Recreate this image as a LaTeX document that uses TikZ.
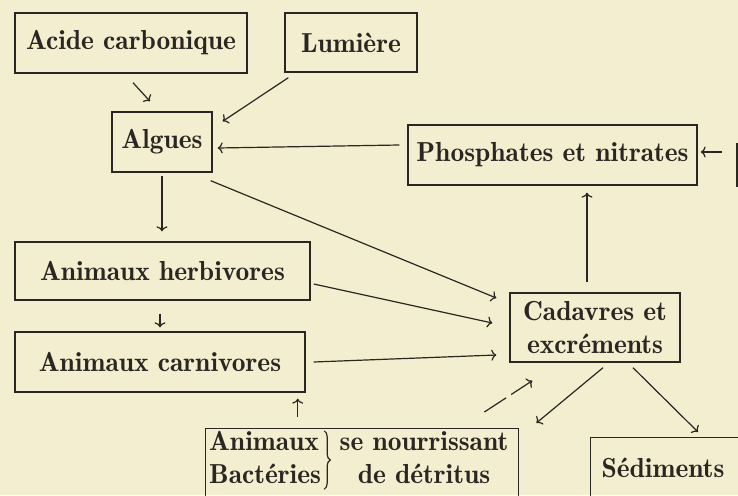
\documentclass[tikz,border=0pt]{standalone}
\usepackage{fontspec}
\setmainfont{lmroman10-regular.otf}[BoldFont=lmromandemi10-regular.otf]
\usetikzlibrary{arrows.meta,decorations.pathreplacing}
\definecolor{paper}{RGB}{243,238,207}
\definecolor{ink}{RGB}{42,38,33}
\begin{document}
\begin{tikzpicture}[x=1pt,y=-1pt,
  txt/.style={inner sep=0pt, text=ink, font=\bfseries\fontsize{27.5}{33}\selectfont, align=center},
  box/.style={txt, draw=ink, line width=1.4pt},
  frame/.style={draw=ink, line width=1.4pt, inner sep=0pt},
  arr/.style={draw=ink, line width=1.2pt, -{To[length=5pt,width=11pt]}}]
\clip (0,0) rectangle (738,495);
\fill[paper] (0,0) rectangle (738,495);
% boxes
\node[box, minimum width=232pt, minimum height=60pt] (acide) at (131,43) {Acide carbonique};
\node[box, minimum width=132pt, minimum height=59pt] (lum) at (351,42.5) {Lumière};
\node[box, minimum width=100pt, minimum height=60pt] (alg) at (162,142) {Algues};
\node[box, minimum width=289pt, minimum height=60pt] (phos) at (552.5,155) {Phosphates et nitrates};
\node[box, minimum width=295pt, minimum height=58pt] (herb) at (162.5,271) {Animaux herbivores};
\node[box, minimum width=290pt, minimum height=60pt] (carn) at (160,362) {Animaux carnivores};
\node[box, minimum width=170pt, minimum height=69pt] (cad) at (595,327.5) {Cadavres et\\excréments};
\node[frame, anchor=north west, minimum width=313pt, minimum height=90pt] (detbox) at (205,428) {};
\node[txt, anchor=west] (detl) at (209,460) {\begin{tabular}{@{}l@{}}Animaux\\Bactéries\end{tabular}};
\draw[ink, line width=1.2pt, decorate, decoration={brace, amplitude=6pt}] ([xshift=3pt,yshift=-4pt]detl.north east) -- ([xshift=3pt,yshift=4pt]detl.south east);
\node[txt] (detr) at (424,460) {\begin{tabular}{@{}c@{}}se nourrissant\\de détritus\end{tabular}};
\node[frame, anchor=north west, minimum width=200pt, minimum height=90pt] (sedbox) at (590,437) {};
\node[txt] (sed) at (663,468) {Sédiments};
\coordinate (rin) at (722,152);
% connectors
\draw[arr] ([xshift=2pt,yshift=-9pt]acide.south) -- ([xshift=-12pt,yshift=10pt]alg.north);
\draw[arr] ([xshift=4pt,yshift=-5pt]lum.south west) -- ([xshift=10pt,yshift=-10pt]alg.north east);
\draw[arr] ([xshift=-8pt,yshift=10pt]phos.west) -- ([xshift=5pt,yshift=-6pt]alg.east);
\draw[arr] (rin) -- ([xshift=3pt,yshift=3pt]phos.east);
\draw[ink, line width=1.4pt] (737,143) -- (737,187);
\draw[arr, shorten <=3pt, shorten >=10pt] (alg.south) -- (alg.south |- herb.north);
\draw[arr, shorten <=13pt, shorten >=4pt] ([xshift=-2.5pt]herb.south) -- ([xshift=-2.5pt]herb.south |- carn.north);
\draw[arr] ([xshift=-2pt,yshift=-8pt]alg.south east) -- ([xshift=-13pt,yshift=29.5pt]cad.west);
\draw[arr] ([xshift=3pt,yshift=-13pt]herb.east) -- ([xshift=-17pt,yshift=4.5pt]cad.west);
\draw[arr] ([xshift=8pt]carn.east) -- ([xshift=-13pt,yshift=-27.5pt]cad.west);
\draw[arr, shorten <=10pt, shorten >=7pt] ([xshift=-8pt]cad.north) -- ([xshift=-8pt]cad.north |- phos.south);
\draw[arr, shorten <=11pt, shorten >=6pt] ([xshift=-64.5pt]detbox.north) -- ([xshift=-64.5pt]detbox.north |- carn.south);
\draw[arr, dash pattern=on 26pt off 6pt] ([xshift=-35pt,yshift=16pt]detbox.north east) -- ([xshift=23pt,yshift=-18pt]cad.south west);
\draw[arr] ([xshift=8pt,yshift=-5pt]cad.south) -- ([xshift=17pt,yshift=5pt]detbox.north east);
\draw[arr] ([xshift=38pt,yshift=-5pt]cad.south) -- ([xshift=108pt,yshift=5pt]sedbox.north west);
\end{tikzpicture}
\end{document}
